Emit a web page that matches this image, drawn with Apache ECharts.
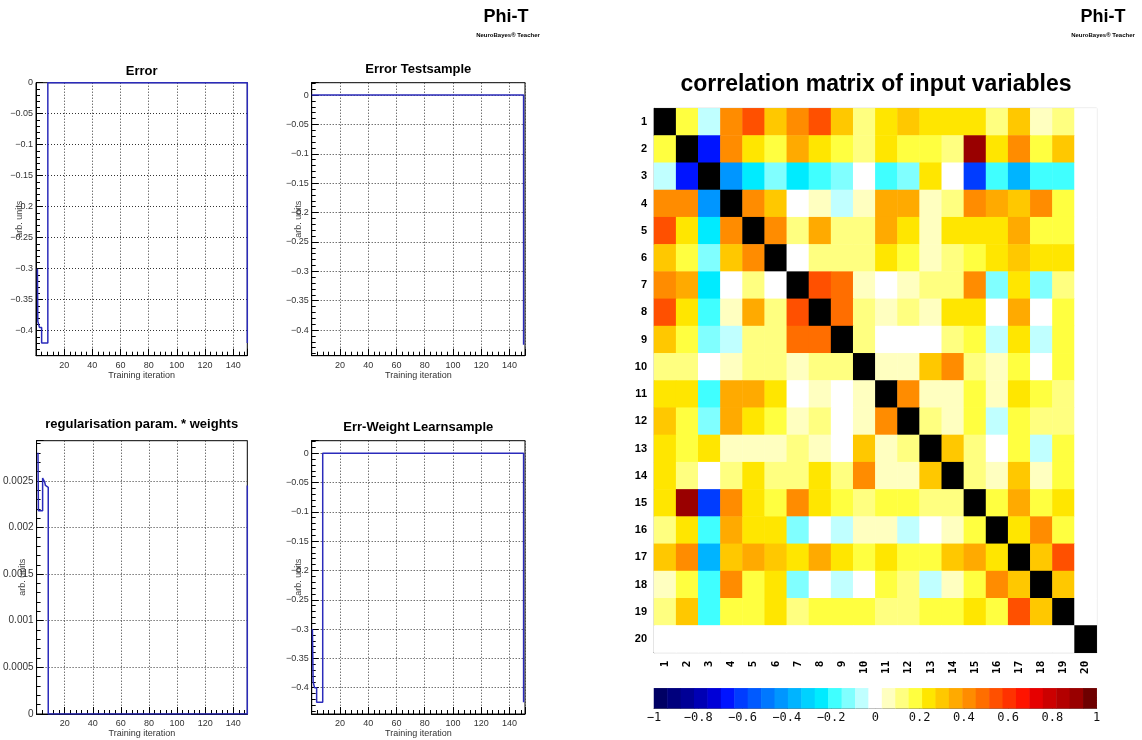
<!DOCTYPE html>
<html>
<head>
<meta charset="utf-8">
<script src="https://cdn.jsdelivr.net/npm/echarts@6/dist/echarts.min.js"></script>
<style>
html,body{margin:0;padding:0;background:#fff;}
#chart{width:1142px;height:740px;}
</style>
</head>
<body>
<div id="chart"></div>
<script>
// ---------- data ----------
// training curves (step points: iteration, value)
const errIter  = [1, 1.3, 2.5, 4, 8.4, 150];
const errVal   = [-0.30, -0.385, -0.395, -0.42, 0, -0.42];
const testIter = [0, 150];
const testVal  = [0, -0.425];
const regIter  = [1, 1.3, 4.3, 5.7, 6.3, 7, 8.3, 150];
const regVal   = [0.0028, 0.00218, 0.00253, 0.00249, 0.00245, 0.00243, 0, 0.00245];
const ewIter   = [0.5, 1, 2, 3.5, 7.8, 150];
const ewVal    = [-0.30, -0.39, -0.40, -0.425, 0, -0.425];

// correlation matrix (rows 1..20, columns 1..20)
const varLabels = ['1','2','3','4','5','6','7','8','9','10','11','12','13','14','15','16','17','18','19','20'];
const corr = [
 [1, 0.18, -0.06, 0.42, 0.55, 0.30, 0.42, 0.55, 0.30, 0.12, 0.24, 0.30, 0.24, 0.24, 0.24, 0.12, 0.30, 0.06, 0.12, 0],
 [0.18, 1, -0.67, 0.42, 0.24, 0.18, 0.36, 0.24, 0.18, 0.12, 0.24, 0.18, 0.18, 0.12, 0.91, 0.24, 0.42, 0.18, 0.30, 0],
 [-0.06, -0.67, 1, -0.42, -0.25, -0.12, -0.25, -0.18, -0.12, 0, -0.18, -0.12, 0.24, 0, -0.61, -0.18, -0.36, -0.18, -0.18, 0],
 [0.42, 0.42, -0.42, 1, 0.42, 0.30, 0, 0.06, -0.06, 0.06, 0.36, 0.36, 0.06, 0.12, 0.42, 0.36, 0.30, 0.42, 0.18, 0],
 [0.55, 0.24, -0.25, 0.42, 1, 0.42, 0.12, 0.36, 0.12, 0.12, 0.36, 0.24, 0.06, 0.24, 0.24, 0.24, 0.36, 0.18, 0.18, 0],
 [0.30, 0.18, -0.12, 0.30, 0.42, 1, 0, 0.12, 0.12, 0.12, 0.24, 0.18, 0.06, 0.12, 0.18, 0.24, 0.30, 0.24, 0.24, 0],
 [0.42, 0.36, -0.25, 0, 0.12, 0, 1, 0.55, 0.48, 0.06, 0, 0.06, 0.12, 0.12, 0.42, -0.12, 0.24, -0.12, 0.12, 0],
 [0.55, 0.24, -0.18, 0.06, 0.36, 0.12, 0.55, 1, 0.48, 0.12, 0.06, 0.12, 0.06, 0.24, 0.24, 0, 0.36, 0, 0.18, 0],
 [0.30, 0.18, -0.12, -0.06, 0.12, 0.12, 0.48, 0.48, 1, 0.12, 0, 0, 0, 0.12, 0.18, -0.06, 0.24, -0.06, 0.18, 0],
 [0.12, 0.12, 0, 0.06, 0.12, 0.12, 0.06, 0.12, 0.12, 1, 0.06, 0.06, 0.30, 0.42, 0.12, 0.06, 0.18, 0, 0.18, 0],
 [0.24, 0.24, -0.18, 0.36, 0.36, 0.24, 0, 0.06, 0, 0.06, 1, 0.42, 0.06, 0.06, 0.18, 0.06, 0.24, 0.18, 0.12, 0],
 [0.30, 0.18, -0.12, 0.36, 0.24, 0.18, 0.06, 0.12, 0, 0.06, 0.42, 1, 0.12, 0.06, 0.18, -0.06, 0.18, 0.12, 0.12, 0],
 [0.24, 0.18, 0.24, 0.06, 0.06, 0.06, 0.12, 0.06, 0, 0.30, 0.06, 0.12, 1, 0.30, 0.12, 0, 0.18, -0.06, 0.18, 0],
 [0.24, 0.12, 0, 0.12, 0.24, 0.12, 0.12, 0.24, 0.12, 0.42, 0.06, 0.06, 0.30, 1, 0.12, 0.06, 0.30, 0.06, 0.18, 0],
 [0.24, 0.91, -0.61, 0.42, 0.24, 0.18, 0.42, 0.24, 0.18, 0.12, 0.18, 0.18, 0.12, 0.12, 1, 0.18, 0.36, 0.18, 0.24, 0],
 [0.12, 0.24, -0.18, 0.36, 0.24, 0.24, -0.12, 0, -0.06, 0.06, 0.06, -0.06, 0, 0.06, 0.18, 1, 0.24, 0.42, 0.18, 0],
 [0.30, 0.42, -0.36, 0.30, 0.36, 0.30, 0.24, 0.36, 0.24, 0.18, 0.24, 0.18, 0.18, 0.30, 0.36, 0.24, 1, 0.30, 0.55, 0],
 [0.06, 0.18, -0.18, 0.42, 0.18, 0.24, -0.12, 0, -0.06, 0, 0.18, 0.12, -0.06, 0.06, 0.18, 0.42, 0.30, 1, 0.30, 0],
 [0.12, 0.30, -0.18, 0.18, 0.18, 0.24, 0.12, 0.18, 0.18, 0.18, 0.12, 0.12, 0.18, 0.18, 0.24, 0.18, 0.55, 0.30, 1, 0],
 [0, 0, 0, 0, 0, 0, 0, 0, 0, 0, 0, 0, 0, 0, 0, 0, 0, 0, 0, 1]
];

// colour palette of the correlation scale (33 bins from -1 to 1)
const palette = ['#000064','#00007d','#000096','#0000b4','#0000d7','#0014ff','#003cff','#005aff','#0078ff','#0096ff','#00b4ff','#00d2ff','#00ebff','#40ffff','#80ffff','#c0ffff','#ffffff','#ffffc0','#ffff80','#ffff40','#ffe600','#ffc800','#ffaa00','#ff8c00','#ff6e00','#ff5000','#ff3200','#ff1400','#e60000','#cc0000','#b30000','#990000','#6e0000'];
const scaleMin = -1, scaleMax = 1;

// ---------- chart ----------
const chart = echarts.init(document.getElementById('chart'), null, {renderer:'canvas'});
const SANS = '"Liberation Sans", Arial, sans-serif';
const MONO = '"DejaVu Sans Mono", "Liberation Mono", monospace';
const LINE = '#2b2bbb';

function fmtMinus(v){ return String(+(+v).toFixed(6)).replace('-', '\u2212'); }
function onStep(v, step){ const q = v/step; return Math.abs(q - Math.round(q)) < 1e-6; }

const panelGrids = [
  {left:36,    top:82.7,  width:211.3, height:273},
  {left:311.7, top:82.7,  width:213.3, height:273},
  {left:36,    top:440.7, width:211.3, height:273.3},
  {left:311.7, top:440.7, width:213.3, height:273.3}
];
const panelX = [[0,150],[0,151],[0,150],[0,151]];
const panelY = [[-0.4403,0,0.05],[-0.4437,0.021,0.05],[0,0.00293,0.0005],[-0.445,0.0215,0.05]];
const yNameGap = [11.5, 9, 10, 9];
const yLabelSize = [9, 9, 10, 9];

const grids = panelGrids.map(g => Object.assign({show:true, borderColor:'#000', borderWidth:1, backgroundColor:'transparent'}, g));
grids.push({left:654, top:108.3, width:442.7, height:544.4, show:true, borderColor:'#bbb', borderWidth:1});
grids.push({left:654, top:688.3, width:442.7, height:20, show:false});

const xAxes = panelX.map((r,i) => ({
  gridIndex:i, type:'value', min:r[0], max:r[1], interval:20,
  axisLine:{onZero:false, lineStyle:{color:'#000', width:1}},
  axisTick:{inside:true, length:7, lineStyle:{color:'#000'}},
  minorTick:{show:true, splitNumber:5, length:4, lineStyle:{color:'#000'}},
  axisLabel:{margin:5, fontSize:9, color:'#333', fontFamily:SANS,
    formatter: v => (v > 0.5 && onStep(v,20)) ? String(Math.round(v)) : ''},
  splitLine:{show:true, lineStyle:{color:'#333', type:[1,2], width:1}},
  name:'Training iteration', nameLocation:'middle', nameGap:15, nameMoveOverlap:false,
  nameTextStyle:{fontSize:9, color:'#333', fontFamily:SANS}
}));
const yAxes = panelY.map((r,i) => ({
  gridIndex:i, type:'value', min:r[0], max:r[1], splitNumber: Math.round((r[1]-r[0])/r[2]),
  axisLine:{onZero:false, lineStyle:{color:'#000', width:1}},
  axisTick:{inside:true, length:7, lineStyle:{color:'#000'}},
  minorTick:{show:true, splitNumber:5, length:4, lineStyle:{color:'#000'}},
  axisLabel:{margin:3, fontSize:yLabelSize[i], color:'#333', fontFamily:SANS,
    formatter: v => onStep(v, r[2]) ? fmtMinus(v) : ''},
  splitLine:{show:true, lineStyle:{color:'#333', type:[1,2], width:1}},
  name:'arb. units', nameLocation:'middle', nameGap: yNameGap[i], nameRotate:90, nameMoveOverlap:false,
  nameTextStyle:{fontSize:9, color:'#444', fontFamily:SANS}
}));

// matrix axes
xAxes.push({gridIndex:4, type:'category', data:varLabels, position:'bottom',
  axisLine:{lineStyle:{color:'#555'}}, axisTick:{show:false},
  axisLabel:{rotate:90, margin:8, fontSize:11, fontWeight:'bold', color:'#000', fontFamily:MONO, interval:0},
  splitLine:{show:false}});
yAxes.push({gridIndex:4, type:'category', data:varLabels, inverse:true,
  axisLine:{lineStyle:{color:'#555'}}, axisTick:{show:false},
  axisLabel:{margin:7, fontSize:11, fontWeight:'bold', color:'#000', fontFamily:SANS, interval:0},
  splitLine:{show:false}});
// colour bar axes
xAxes.push({gridIndex:5, type:'category', data:palette.map((c,k)=>String(k)), position:'top', show:false});
xAxes.push({gridIndex:5, type:'value', min:scaleMin, max:scaleMax, interval:0.2, position:'bottom',
  axisLine:{show:true, onZero:false, lineStyle:{color:'#777'}},
  axisTick:{show:true, inside:true, length:12, lineStyle:{color:'#333', type:[1,1.5]}},
  axisLabel:{margin:4, fontSize:12, color:'#111', fontFamily:MONO,
    formatter: v => { const r = Math.round(v*10)/10; return r === 0 ? '0' : String(r).replace('-', '\u2212'); }},
  splitLine:{show:false}});
yAxes.push({gridIndex:5, type:'category', data:[''], show:false});

const lineData = [[errIter,errVal],[testIter,testVal],[regIter,regVal],[ewIter,ewVal]];
const series = lineData.map((d,i) => ({
  type:'line', xAxisIndex:i, yAxisIndex:i, step:'end', showSymbol:false, symbol:'none',
  lineStyle:{color:LINE, width:1.5}, data:d[0].map((x,k)=>[x, d[1][k]]), z:3
}));

const heat = [];
corr.forEach((row,i) => row.forEach((v,j) => heat.push([j, i, v])));
series.push({type:'heatmap', xAxisIndex:4, yAxisIndex:4, data:heat, itemStyle:{borderWidth:0}});
series.push({type:'heatmap', xAxisIndex:5, yAxisIndex:5,
  data: palette.map((c,k) => ({value:[k, 0, k], itemStyle:{color:c}}))});

const binW = (scaleMax - scaleMin) / palette.length;
const pieces = [{value:1, color:'#000000'}].concat(palette.map((c,k) => ({
  gte: scaleMin + k*binW, lt: scaleMin + (k+1)*binW - (k === palette.length-1 ? 1e-6 : 0), color:c
})));

function txt(x, y, text, size, weight){
  return {type:'text', x:x, y:y, z:10, style:{text:text, fontSize:size, fontWeight:weight||'bold',
    fontFamily:SANS, fill:'#000', align:'center', verticalAlign:'middle'}};
}

chart.setOption({
  animation:false,
  backgroundColor:'#fff',
  grid: grids,
  xAxis: xAxes,
  yAxis: yAxes,
  visualMap: {type:'piecewise', show:false, seriesIndex:4, dimension:2, pieces:pieces},
  series: series,
  graphic: [
    txt(506, 17, 'Phi-T', 18),
    txt(508, 35.5, 'NeuroBayes\u00ae Teacher', 6),
    txt(1103, 17, 'Phi-T', 18),
    txt(1103, 35.5, 'NeuroBayes\u00ae Teacher', 6),
    txt(141.7, 71.7, 'Error', 13),
    txt(418.3, 69.5, 'Error Testsample', 13),
    txt(141.7, 424, 'regularisation param. * weights', 13),
    txt(418.3, 427.3, 'Err-Weight Learnsample', 13),
    txt(876, 85, 'correlation matrix of input variables', 23)
  ]
});
</script>
</body>
</html>
